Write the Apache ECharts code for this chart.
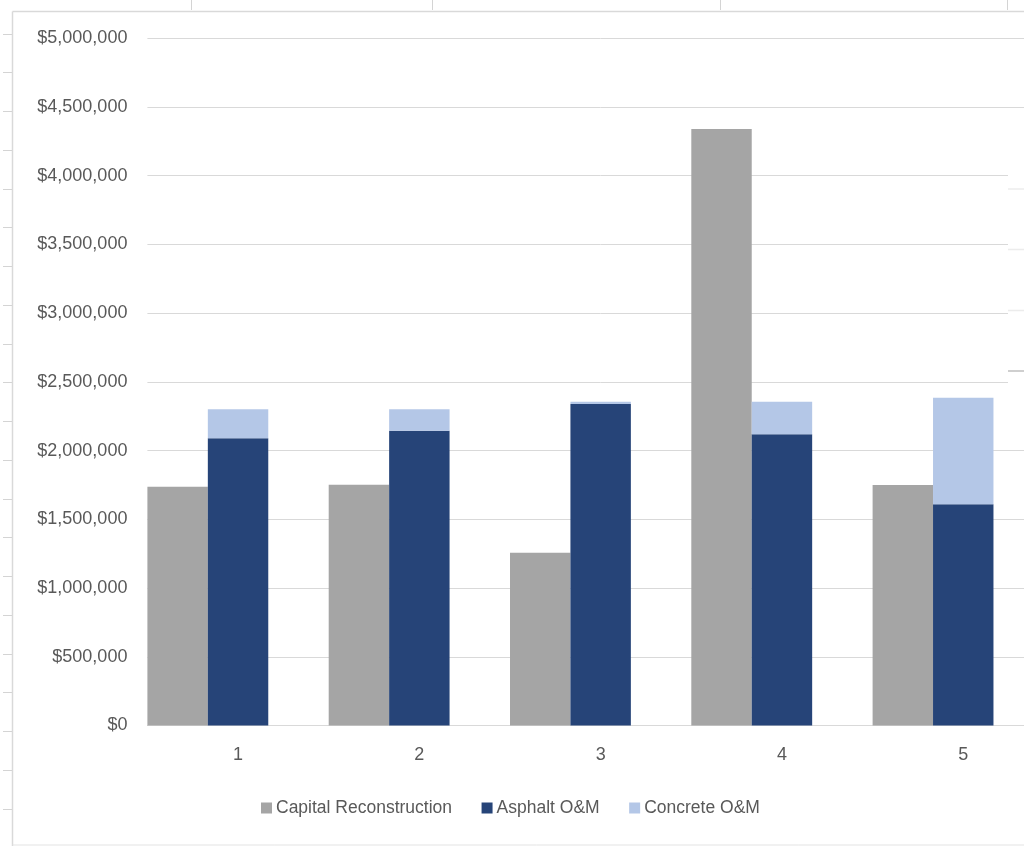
<!DOCTYPE html>
<html>
<head>
<meta charset="utf-8">
<script src="https://cdn.jsdelivr.net/npm/echarts@6/dist/echarts.min.js"></script>
<style>
  html, body { margin: 0; padding: 0; background: #ffffff; overflow: hidden; }
  /* the chart object runs past the right edge of the window */
  #chart { width: 1060px; height: 846px; }
</style>
</head>
<body>
<div id="chart"></div>
<script>
// Year index along the x axis
const categories = ['1', '2', '3', '4', '5'];

// Cost per year, in dollars
const capitalReconstruction = [1738000, 1752000, 1257000, 4340000, 1750000];
const asphaltOM = [2090000, 2145000, 2339000, 2119000, 1609000];
const concreteOM = [211000, 156000, 17000, 237000, 776000];
// third slot of each group is left empty
const emptySlot = [];

// Value axis range and step
const yMin = 0;
const yMax = 5000000;
const yStep = 500000;

const seriesNames = ['Capital Reconstruction', 'Asphalt O&M', 'Concrete O&M'];

const FONT = 'Liberation Sans';
const TEXT_COLOR = '#595959';
const GRID_COLOR = '#d9d9d9';

function money(v) {
  return '$' + Number(v).toLocaleString('en-US');
}

// Worksheet frame around the chart object: cell borders and row/column marks
function sheetDecor() {
  const els = [];
  const line = (x1, y1, x2, y2, color, w) => els.push({
    type: 'line', silent: true, z: 50,
    shape: { x1, y1, x2, y2 },
    style: { stroke: color || '#d4d4d4', lineWidth: w || 1 }
  });
  // chart frame
  line(12.5, 11.5, 1060, 11.5, '#d9d9d9', 1.5);
  line(12.5, 11.5, 12.5, 846, '#d9d9d9', 1.5);
  line(12.5, 845, 1060, 845, '#e3e3e3', 1);
  // column marks above the frame
  [191.5, 432.5, 720.5, 1007.5].forEach(x => line(x, 0, x, 10, '#d4d4d4', 1));
  // row marks left of the frame
  for (let y = 33.5; y < 846; y += 38.75) line(3, Math.round(y) + 0.5, 12, Math.round(y) + 0.5, '#d4d4d4', 1);
  // cells showing to the right of the chart
  els.push({
    type: 'rect', silent: true, z: 40,
    shape: { x: 1008, y: 130, width: 52, height: 285 },
    style: { fill: '#ffffff' }
  });
  [189, 249.5, 310.5].forEach(y => line(1008, y, 1060, y, '#ececec', 1.5));
  line(1008, 371, 1060, 371, '#cfcfcf', 2);
  return els;
}

const chart = echarts.init(document.getElementById('chart'), null, { renderer: 'canvas' });

chart.setOption({
  animation: false,
  backgroundColor: '#ffffff',
  textStyle: { fontFamily: FONT },
  color: ['#a5a5a5', '#264478', '#b4c7e7'],
  grid: {
    left: 147.4,
    top: 38.3,
    width: 906.5,
    height: 687.2,
    containLabel: false
  },
  legend: {
    data: seriesNames,
    left: 256,
    top: 794,
    icon: 'rect',
    itemWidth: 11,
    itemHeight: 11,
    itemGap: 29.5,
    textStyle: { color: TEXT_COLOR, fontSize: 17.5, fontFamily: FONT, padding: [0, 0, 0, -1] }
  },
  xAxis: {
    type: 'category',
    data: categories,
    axisLine: { show: true, lineStyle: { color: GRID_COLOR, width: 1 } },
    axisTick: { show: false },
    axisLabel: { color: TEXT_COLOR, fontSize: 18, fontFamily: FONT, margin: 21 },
    splitLine: { show: false }
  },
  yAxis: {
    type: 'value',
    min: yMin,
    max: yMax,
    interval: yStep,
    axisLine: { show: false },
    axisTick: { show: false },
    axisLabel: {
      color: TEXT_COLOR, fontSize: 18, fontFamily: FONT, margin: 20,
      formatter: money
    },
    splitLine: { show: true, lineStyle: { color: GRID_COLOR, width: 1 } }
  },
  series: [
    {
      name: seriesNames[0],
      type: 'bar',
      data: capitalReconstruction,
      barGap: '0%',
      barCategoryGap: '0%',
      itemStyle: { color: '#a5a5a5' }
    },
    {
      name: seriesNames[1],
      type: 'bar',
      stack: 'om',
      data: asphaltOM,
      itemStyle: { color: '#264478' }
    },
    {
      name: seriesNames[2],
      type: 'bar',
      stack: 'om',
      data: concreteOM,
      itemStyle: { color: '#b4c7e7' }
    },
    {
      name: 'spacer',
      type: 'bar',
      data: emptySlot,
      silent: true
    }
  ],
  graphic: sheetDecor()
});
</script>
</body>
</html>
